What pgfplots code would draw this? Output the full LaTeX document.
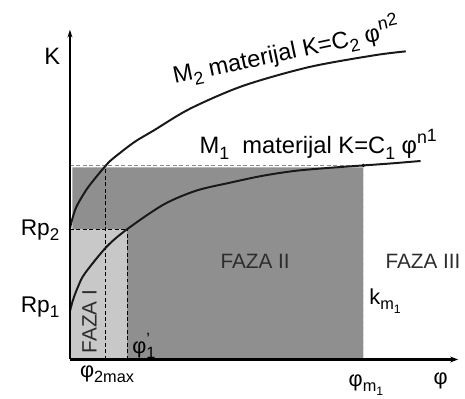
\documentclass[border=0pt]{standalone}
\usepackage{fontspec}
\setmainfont{Liberation Sans}
\usepackage{pgfplots}
\pgfplotsset{compat=1.18}
\usetikzlibrary{arrows.meta}
\definecolor{darkfill}{RGB}{143,143,143}
\definecolor{lightfill}{RGB}{200,200,200}
\definecolor{fazatext}{RGB}{45,45,45}
\makeatletter
\newcommand\lo[1]{\raisebox{-0.25em}{\fontsize{\fpeval{0.75*\f@size}}{\fpeval{0.9*\f@size}}\selectfont #1}}
\newcommand\hi[1]{\raisebox{0.42em}{\fontsize{\fpeval{0.75*\f@size}}{\fpeval{0.9*\f@size}}\selectfont #1}}
\makeatother
\newcommand\fs[1]{\fontsize{#1bp}{#1bp}\selectfont}
\begin{document}
\fs{21}
\begin{tikzpicture}
\begin{axis}[
  x=1bp, y=1bp, scale only axis,
  xmin=65, xmax=458, ymin=40, ymax=374,
  axis lines=left, axis on top,
  xtick=\empty, ytick=\empty,
  clip=false,
  x axis line style={line width=2.2bp, -{Stealth[length=8bp,width=6bp]}},
  y axis line style={line width=1.2bp, -{Stealth[length=8bp,width=5bp]}},
]
% corners of the picture (465 x 404)
\coordinate (bl) at (axis cs:0,0);
\coordinate (tr) at (axis cs:465,404);

% shaded phases
\addplot[draw=none, fill=darkfill] coordinates {(67.5,40) (362,40) (362,234.5) (67.5,234.5) (67.5,40)};
\addplot[draw=none, fill=lightfill] coordinates {(65,40) (123,40) (123,172) (65,172) (65,40)};

% dashed guide lines
\addplot[color={rgb,255:red,140;green,140;blue,140}, line width=1bp, dash pattern=on 4bp off 2.5bp] coordinates {(65,236) (364,236)};
\addplot[color={rgb,255:red,225;green,225;blue,225}, line width=1bp, dash pattern=on 4bp off 2.5bp] coordinates {(362,40) (362,236)};
\addplot[black, line width=0.9bp, dash pattern=on 4bp off 2.5bp] coordinates {(101,40) (101,236)};
\addplot[black, line width=0.9bp, dash pattern=on 4bp off 2.5bp] coordinates {(123,40) (123,172)};
\addplot[black, line width=0.9bp, dash pattern=on 4bp off 2.5bp] coordinates {(65,172) (123,172)};

% M2 curve
\addplot[color={rgb,255:red,25;green,25;blue,25}, line width=2bp, smooth] coordinates {
 (65,172) (67,181) (71.7,195) (81.7,212) (91.7,225) (101,236) (108,243)
 (130,260) (150,272) (186.7,294) (240,317) (306.7,336) (373,348) (405,352)};
% M1 curve
\addplot[color={rgb,255:red,25;green,25;blue,25}, line width=2bp, smooth] coordinates {
 (65,89) (68.3,101) (73.3,114) (80,127) (102,154) (123,172) (160,197)
 (193,211) (227,219) (260,226) (293,231) (327,234) (362,236.5) (390,238.5) (420,241)};
\addplot[only marks, mark=o, mark size=1.4bp, mark options={fill=white, line width=0.6bp}] coordinates {(362,236.5)};

% labels
\node[anchor=base west, inner sep=0pt, font=\fs{24}] at (axis cs:39,339) {K};
\node[anchor=base west, rotate=12, inner sep=0pt, font=\fs{24}] at (axis cs:171,319) {M\lo{2} materijal K=C\lo{2} φ\hi{n\raisebox{0.1em}{2}}};
\node[anchor=base west, inner sep=0pt, font=\fs{24}] at (axis cs:196,249) {M\lo{1}\ \ materijal K=C\lo{1} φ\hi{n\raisebox{0.1em}{1}}};
\node[anchor=base west, inner sep=0pt, font=\fs{23}] at (axis cs:15,166) {Rp\lo{2}};
\node[anchor=base west, inner sep=0pt, font=\fs{23}] at (axis cs:15,88) {Rp\lo{1}};
\node[anchor=base, rotate=90, inner sep=0pt, text=fazatext] at (axis cs:92,78.5) {FAZA I};
\node[anchor=base, inner sep=0pt, text=fazatext] at (axis cs:252.5,132) {FAZA II};
\node[anchor=base, inner sep=0pt, text=fazatext] at (axis cs:422.5,132) {FAZA III};
\node[anchor=base west, inner sep=0pt, font=\fs{22}] at (axis cs:368,96) {k\lo{m\lo{1}}};
\node[anchor=base west, inner sep=0pt, font=\fs{22}] at (axis cs:128,46) {φ\rlap{\hi{’}}\lo{1}};
\node[anchor=base west, inner sep=0pt, font=\fs{22}] at (axis cs:75,22) {φ\lo{2max}};
\node[anchor=base west, inner sep=0pt, font=\fs{22}] at (axis cs:347,13) {φ\lo{m\lo{1}}};
\node[anchor=base west, inner sep=0pt, font=\fs{22}] at (axis cs:433,15) {φ};
\end{axis}
\pgfresetboundingbox
\useasboundingbox (bl) rectangle (tr);
\end{tikzpicture}
\end{document}
